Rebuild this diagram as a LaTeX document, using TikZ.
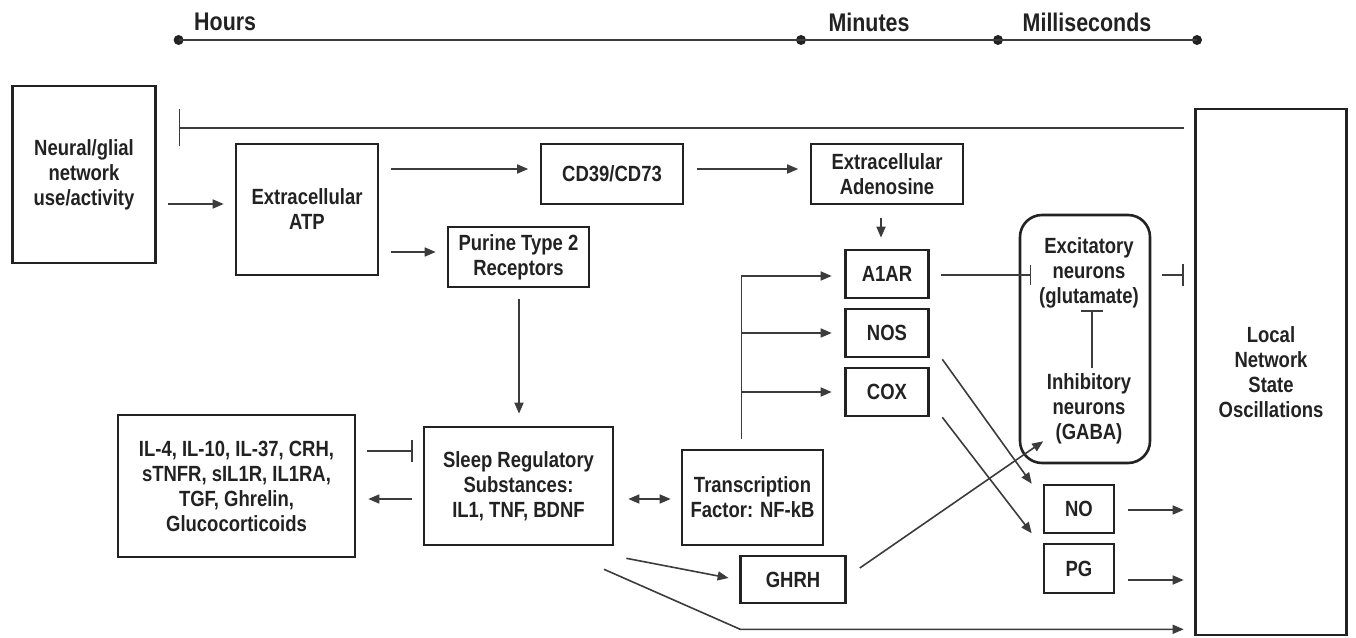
\documentclass[tikz,border=0pt]{standalone}
\usepackage{fontspec}
\setmainfont{Liberation Sans}[FakeStretch=0.84]
\usepackage{xcolor}
\usetikzlibrary{positioning, arrows.meta, calc}
\definecolor{inkgray}{HTML}{222222}
\definecolor{linegray}{HTML}{3C3C3C}

\begin{document}
\begin{tikzpicture}[x=1pt, y=1pt,
  font=\bfseries\fontsize{22}{25}\selectfont, text=inkgray,
  box/.style={draw=inkgray, line width=2.6pt, inner sep=0pt, align=center},
  plain/.style={inner sep=0pt, align=center},
  arr/.style={draw=linegray, line width=1.6pt, -{Triangle[length=11pt, width=9pt]}},
  inh/.style={draw=linegray, line width=1.6pt, -{Bar[width=22pt, line width=1.6pt]}},
  dot/.style={circle, fill=inkgray, inner sep=0pt, minimum size=10pt},
  span/.style={inner sep=0pt, font=\bfseries\fontsize{25.5}{28}\selectfont}]
  \useasboundingbox (0,0) rectangle (1356,637);

  \node[dot] (t1) at (178.6,597) {};
  \node[dot] (t2) at (801,597) {};
  \node[dot] (t3) at (998,597) {};
  \node[dot] (t4) at (1197,597) {};
  \draw[linegray, line width=1.6pt] (t1.center) -- (t4.center);
  \node[span, anchor=west] (hours) at (194,615) {Hours};
  \node[span] (minutes) at (869,615) {Minutes};
  \node[span] (millis) at (1087,615) {Milliseconds};

  \node[box, minimum width=143pt, minimum height=177pt] (neural) at (84,462.5) {Neural/glial\\network\\use/activity};
  \node[box, minimum width=142pt, minimum height=131pt] (atp) at (307,427.5) {Extracellular\\ATP};
  \node[box, minimum width=142pt, minimum height=60pt] (cd) at (612,463) {CD39/CD73};
  \node[box, minimum width=152pt, minimum height=60pt] (adeno) at (887,463) {Extracellular\\Adenosine};
  \node[box, minimum width=141pt, minimum height=60pt] (purine) at (518.5,380) {Purine Type 2\\Receptors};
  \node[box, minimum width=83pt, minimum height=48pt] (aar) at (887,363) {A1AR};
  \node[box, minimum width=83pt, minimum height=48pt] (nos) at (887,304) {NOS};
  \node[box, minimum width=83pt, minimum height=48pt] (cox) at (887,245) {COX};
  \node[box, rounded corners=22pt, minimum width=130pt, minimum height=248pt] (neurons) at (1085,298) {};
  \node[plain] (exc) at (1089,364) {Excitatory\\neurons\\(glutamate)};
  \node[plain] (inh) at (1089,228) {Inhibitory\\neurons\\(GABA)};
  \node[box, minimum width=151pt, minimum height=526pt] (local) at (1271,265) {Local\\Network\\State\\Oscillations};
  \node[box, minimum width=237pt, minimum height=142pt] (il) at (236.5,151) {IL-4, IL-10, IL-37, CRH,\\sTNFR, sIL1R, IL1RA,\\TGF, Ghrelin,\\Glucocorticoids};
  \node[box, minimum width=189pt, minimum height=118pt] (srs) at (518.5,151) {Sleep Regulatory\\Substances:\\IL1, TNF, BDNF};
  \node[box, minimum width=141pt, minimum height=95pt] (nfkb) at (752.5,139.5) {Transcription\\Factor: NF-kB};
  \node[box, minimum width=105pt, minimum height=47pt] (ghrh) at (793,57.5) {GHRH};
  \node[box, minimum width=70pt, minimum height=48pt] (no) at (1079,128) {NO};
  \node[box, minimum width=70pt, minimum height=49pt] (pg) at (1079,68.5) {PG};

  \coordinate (fb) at (178.6,509);
  \draw[inh, -{Bar[width=37pt, line width=1.6pt]}] ($(local.west|-fb)+(-10.5,0)$) -- (fb);
  \draw[arr] ($(neural.east)+(11.5,-29.5)$) -- ($(atp.west)+(-11,5.5)$);
  \draw[arr] ($(atp.east)+(12,40.5)$) -- ($(cd.west)+(-11.5,5)$);
  \draw[arr] ($(atp.east)+(12,-42.5)$) -- ($(purine.west)+(-11,5)$);
  \draw[arr] ($(cd.east)+(12.5,5)$) -- ($(adeno.west)+(-11.5,5)$);
  \draw[arr] ($(adeno.south)+(-6,-13)$) -- ($(aar.north)+(-6,11)$);
  \draw[arr] ($(purine.south)+(0.5,-11)$) -- ($(srs.north)+(0.5,12)$);
  \draw[inh] ($(il.east)+(11,35)$) -- ($(srs.west)+(-10,35)$);
  \draw[arr] ($(srs.west)+(-11,-13)$) -- ($(il.east)+(12,-13)$);
  \draw[arr, {Triangle[length=11pt, width=9pt]}-{Triangle[length=11pt, width=9pt]}] ($(srs.east)+(14,-13)$) -- ($(nfkb.west)+(-10,-1.5)$);

  \coordinate (br) at ($(nfkb.north)+(-11,10)$);
  \draw[arr] (br) |- ($(aar.west)+(-12.5,-2)$);
  \draw[arr] (br |- nos.west) -- ($(nos.west)+(-12.5,0)$);
  \draw[arr] (br |- cox.west) -- ($(cox.west)+(-12.5,0)$);

  \draw[inh, -{Bar[width=20pt, line width=1.6pt]}] ($(aar.east)+(11.5,-1)$) -- ($(neurons.west|-aar.east)+(12.5,-1)$);
  \draw[inh] ($(neurons.east|-aar.east)+(11,-1)$) -- ($(local.west|-aar.east)+(-10.5,-1)$);
  \draw[inh] ($(neurons.center)+(7,-29)$) -- ($(neurons.center)+(7,29)$);

  \draw[arr] ($(nos.south east)+(12.5,-1)$) -- ($(no.north west)+(-11,0)$);
  \draw[arr] ($(cox.south east)+(12.5,0)$) -- ($(no.south west)+(-11,1)$);
  \draw[arr] ($(ghrh.east)+(13,11.5)$) -- ($(neurons.south west)+(24.5,23)$);
  \draw[arr] ($(srs.south east)+(12,-12)$) -- ($(ghrh.west)+(-10.6,1.5)$);

  \coordinate (bend) at ($(ghrh.south west)+(1,-25)$);
  \draw[arr] ($(srs.south east)+(-10.3,-23)$) -- (bend) -- ($(local.west|-bend)+(-10.5,0)$);
  \draw[arr] ($(no.east)+(13,-1)$) -- ($(local.west|-no.east)+(-10.5,-1)$);
  \draw[arr] ($(pg.east)+(13,-11.5)$) -- ($(local.west|-pg.east)+(-10.5,-11.5)$);
\end{tikzpicture}
\end{document}
